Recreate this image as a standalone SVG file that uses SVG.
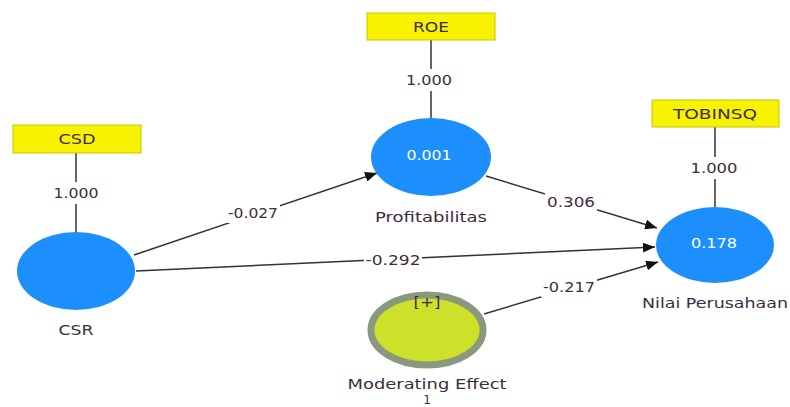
<svg xmlns="http://www.w3.org/2000/svg" width="790" height="407" viewBox="0 0 790 407">
<style>
.t{font-family:"DejaVu Sans","Liberation Sans",sans-serif;font-size:14px;fill:#3f2c42;text-anchor:middle;dominant-baseline:central}
.w{fill:#ffffff}
.bg{fill:#ffffff}
.box{fill:#f7f200;stroke:#c9c400;stroke-width:1}
.lv{fill:#1d8ffd}
.ln{stroke:#333;stroke-width:1.5;fill:none}
</style>
<defs>
<marker id="ah" viewBox="0 0 12 10" refX="12" refY="5" markerWidth="12" markerHeight="10" markerUnits="userSpaceOnUse" orient="auto">
<path d="M0,0 L12,5 L0,10 Z" fill="#111"/>
</marker>
</defs>
<g id="connectors">
<line class="ln" x1="76" y1="153" x2="76" y2="233"/>
<line class="ln" x1="431" y1="40" x2="431" y2="118"/>
<line class="ln" x1="715" y1="127" x2="715" y2="207"/>
<line class="ln" x1="134" y1="255" x2="377" y2="173" marker-end="url(#ah)"/>
<line class="ln" x1="486" y1="176" x2="657" y2="228" marker-end="url(#ah)"/>
<line class="ln" x1="136" y1="271" x2="655" y2="247" marker-end="url(#ah)"/>
<line class="ln" x1="484" y1="314" x2="658" y2="262" marker-end="url(#ah)"/>
<rect class="bg" x="52" y="182" width="48" height="22"/>
<rect class="bg" x="405" y="69" width="48" height="22"/>
<rect class="bg" x="690" y="157" width="48" height="22"/>
<rect class="bg" x="226" y="203" width="54" height="20"/>
<rect class="bg" x="545" y="192" width="52" height="20"/>
<rect class="bg" x="364" y="251" width="58" height="18"/>
<rect class="bg" x="541" y="277" width="56" height="20"/>
<text class="t" x="76" y="193" textLength="45" lengthAdjust="spacingAndGlyphs">1.000</text>
<text class="t" x="429" y="80" textLength="46" lengthAdjust="spacingAndGlyphs">1.000</text>
<text class="t" x="714" y="168" textLength="47" lengthAdjust="spacingAndGlyphs">1.000</text>
<text class="t" x="253" y="213" textLength="50" lengthAdjust="spacingAndGlyphs">-0.027</text>
<text class="t" x="571" y="202" textLength="48" lengthAdjust="spacingAndGlyphs">0.306</text>
<text class="t" x="393" y="260" textLength="55" lengthAdjust="spacingAndGlyphs">-0.292</text>
<text class="t" x="569" y="287" textLength="52" lengthAdjust="spacingAndGlyphs">-0.217</text>
</g>
<g id="CSD">
<rect class="box" x="13" y="125" width="128" height="28"/>
<text class="t" x="77" y="139" textLength="37" lengthAdjust="spacingAndGlyphs">CSD</text>
</g>
<g id="ROE">
<rect class="box" x="367" y="13" width="128" height="27"/>
<text class="t" x="431" y="27" textLength="36" lengthAdjust="spacingAndGlyphs">ROE</text>
</g>
<g id="TOBINSQ">
<rect class="box" x="652" y="100" width="127" height="27"/>
<text class="t" x="715" y="114" textLength="84" lengthAdjust="spacingAndGlyphs">TOBINSQ</text>
</g>
<g id="CSR">
<ellipse class="lv" cx="76" cy="271" rx="59" ry="39"/>
<text class="t" x="76" y="330" textLength="35" lengthAdjust="spacingAndGlyphs">CSR</text>
</g>
<g id="Profitabilitas">
<ellipse class="lv" cx="431" cy="157" rx="60" ry="39"/>
<text class="t w" x="429" y="155" textLength="45" lengthAdjust="spacingAndGlyphs">0.001</text>
<text class="t" x="431" y="217" textLength="112" lengthAdjust="spacingAndGlyphs">Profitabilitas</text>
</g>
<g id="NilaiPerusahaan">
<ellipse class="lv" cx="715" cy="245" rx="59" ry="38"/>
<text class="t w" x="714" y="243" textLength="46" lengthAdjust="spacingAndGlyphs">0.178</text>
<text class="t" x="715" y="303" textLength="146" lengthAdjust="spacingAndGlyphs">Nilai Perusahaan</text>
</g>
<g id="ModeratingEffect">
<ellipse cx="427" cy="330" rx="56" ry="35" fill="#cde12b" stroke="#8a9880" stroke-width="7"/>
<text class="t" x="427" y="302" textLength="27" lengthAdjust="spacingAndGlyphs">[+]</text>
<text class="t" x="427" y="384" textLength="159" lengthAdjust="spacingAndGlyphs">Moderating Effect</text>
<text class="t" x="427" y="400" style="font-size:12px">1</text>
</g>
</svg>
